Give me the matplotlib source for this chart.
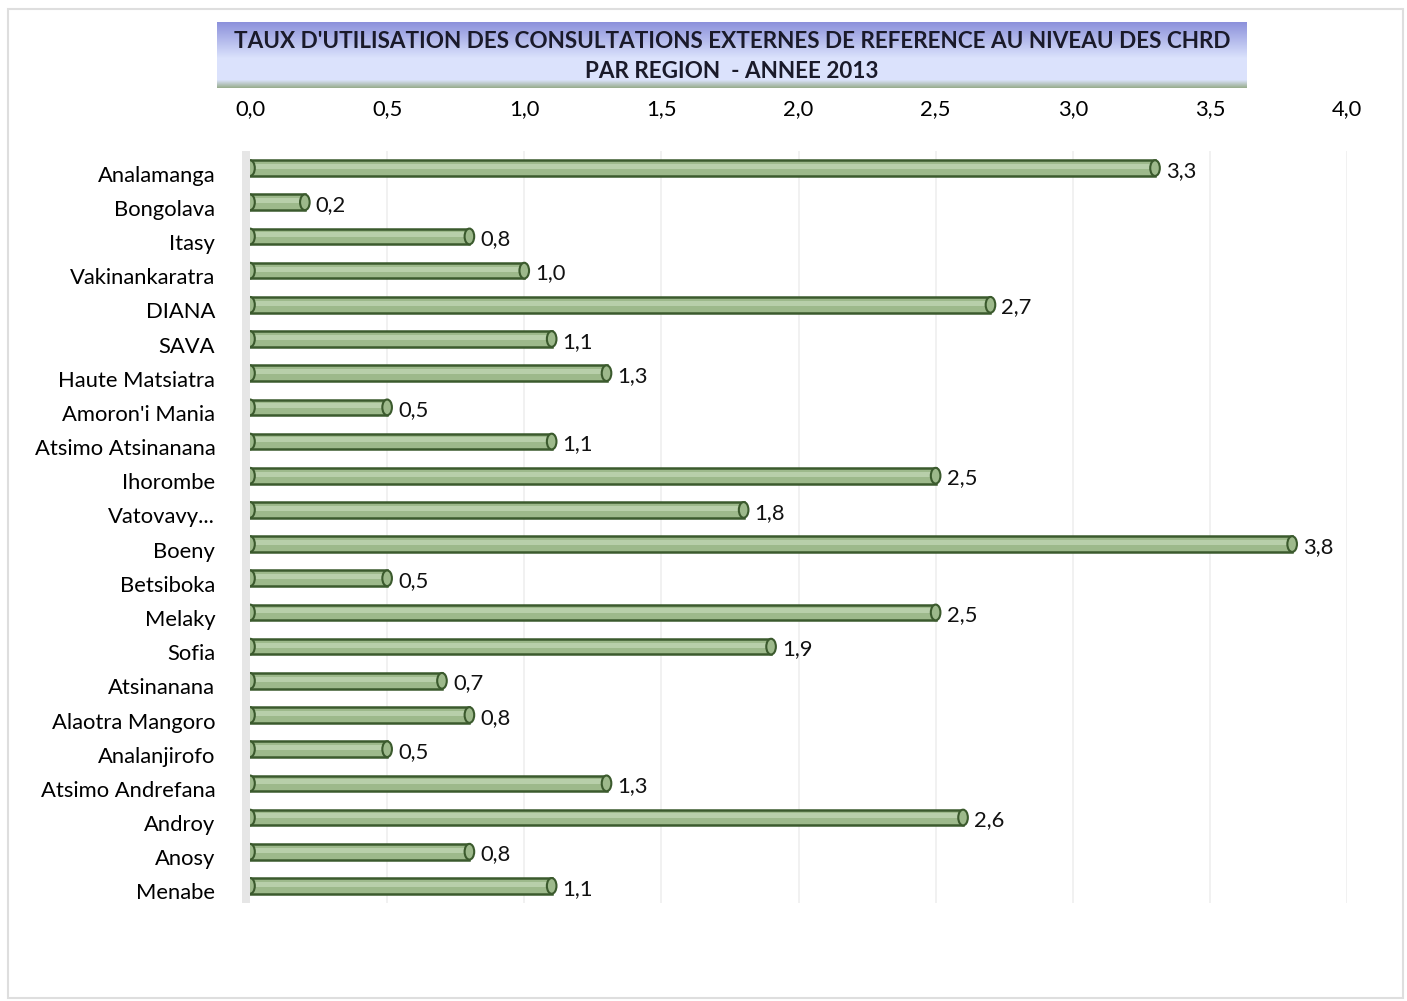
import matplotlib.pyplot as plt
import matplotlib.transforms as mtransforms
import numpy as np
from matplotlib.patches import Rectangle, Ellipse

# Data
regions = ["Analamanga", "Bongolava", "Itasy", "Vakinankaratra", "DIANA", "SAVA",
           "Haute Matsiatra", "Amoron'i Mania", "Atsimo Atsinanana", "Ihorombe",
           "Vatovavy...", "Boeny", "Betsiboka", "Melaky", "Sofia", "Atsinanana",
           "Alaotra Mangoro", "Analanjirofo", "Atsimo Andrefana", "Androy",
           "Anosy", "Menabe"]
taux = [3.3, 0.2, 0.8, 1.0, 2.7, 1.1, 1.3, 0.5, 1.1, 2.5, 1.8, 3.8, 0.5, 2.5,
        1.9, 0.7, 0.8, 0.5, 1.3, 2.6, 0.8, 1.1]
x_ticks = [0.0, 0.5, 1.0, 1.5, 2.0, 2.5, 3.0, 3.5, 4.0]
title_lines = ["TAUX D'UTILISATION DES CONSULTATIONS EXTERNES DE REFERENCE AU NIVEAU DES CHRD",
               "PAR REGION  - ANNEE 2013"]

plt.rcParams['font.family'] = ['Lato', 'DejaVu Sans']

W, H = 1407, 1001
fig = plt.figure(figsize=(W / 100, H / 100), dpi=100)

# outer frame
fig.patches.append(Rectangle((8 / W, 3 / H), 1395 / W, 989 / H, transform=fig.transFigure,
                             fill=False, edgecolor='#dedede', linewidth=1.5))

# title banner with vertical gradient
tx0, ty0, tw, th = 217, 22, 1030, 66
tax = fig.add_axes([tx0 / W, 1 - (ty0 + th) / H, tw / W, th / H])
n = 100
top_c = np.array([0.55, 0.57, 0.86])
mid_c = np.array([0.86, 0.89, 0.99])
grn_c = np.array([0.60, 0.68, 0.56])
grad = np.zeros((n, 1, 3))
for i in range(n):
    t = i / (n - 1)
    if t < 0.55:
        grad[i, 0] = top_c + (mid_c - top_c) * (t / 0.55)
    elif t < 0.88:
        grad[i, 0] = mid_c
    else:
        grad[i, 0] = mid_c + (grn_c - mid_c) * ((t - 0.88) / 0.12)
tax.imshow(grad, aspect='auto', extent=[0, 1, 0, 1])
tax.set_axis_off()
fig.text(732 / W, 1 - 42 / H, title_lines[0], ha='center', va='center',
         fontsize=16.2, fontweight='bold', color='#1a1a2a')
fig.text(732 / W, 1 - 71 / H, title_lines[1], ha='center', va='center',
         fontsize=16.2, fontweight='bold', color='#1a1a2a')

# main axes
ax_left, ax_right = 250, 1347
ax_top, ax_bot = 151, 903
ax = fig.add_axes([ax_left / W, 1 - ax_bot / H, (ax_right - ax_left) / W, (ax_bot - ax_top) / H])

y = np.arange(len(regions))
bh = 0.46
ax.barh(y, taux, height=bh, color='#9db98b', edgecolor='#3b5a2d', linewidth=1.8, zorder=3)
# highlight stripe to suggest the cylinder
ax.barh(y - bh * 0.1, taux, height=bh * 0.32, color='#b8cfaa', linewidth=0, zorder=4)
for yi, v in zip(y, taux):
    ax.add_patch(Ellipse((v, yi), 0.035, bh, facecolor='#9db98b', edgecolor='#3b5a2d',
                         linewidth=1.5, zorder=5))
    ax.add_patch(Ellipse((0.0, yi), 0.035, bh, facecolor='#9db98b', edgecolor='#3b5a2d',
                         linewidth=1.5, zorder=5))
    ax.text(v + 0.04, yi + 0.08, f"{v:.1f}".replace('.', ','), va='center', ha='left',
            fontsize=15.8, color='#111111', zorder=6)

ax.set_xlim(0, 4)
ax.set_ylim(len(regions) - 0.5, -0.5)
ax.set_xticks(x_ticks)
ax.set_xticklabels([f"{t:.1f}".replace('.', ',') for t in x_ticks], fontsize=15.8)
ax.xaxis.tick_top()
ax.tick_params(axis='x', length=0, pad=23)
ax.set_yticks(y)
ax.set_yticklabels(regions, fontsize=15.8)
ax.tick_params(axis='y', length=0, pad=25)
# labels sit a little below the bar centre in the reference
shift = mtransforms.ScaledTranslation(0, -4 / 72, fig.dpi_scale_trans)
for lab in ax.get_yticklabels():
    lab.set_transform(lab.get_transform() + shift)
for s in ax.spines.values():
    s.set_visible(False)
for t in x_ticks[1:]:
    ax.axvline(t, color='#efefef', linewidth=1.2, zorder=1)

# left 3D wall
ax.add_patch(Rectangle((-0.03, -0.5), 0.03, len(regions), facecolor='#e6e6e6',
                       edgecolor='none', clip_on=False, zorder=1))

fig.savefig("out.png", dpi=100)
